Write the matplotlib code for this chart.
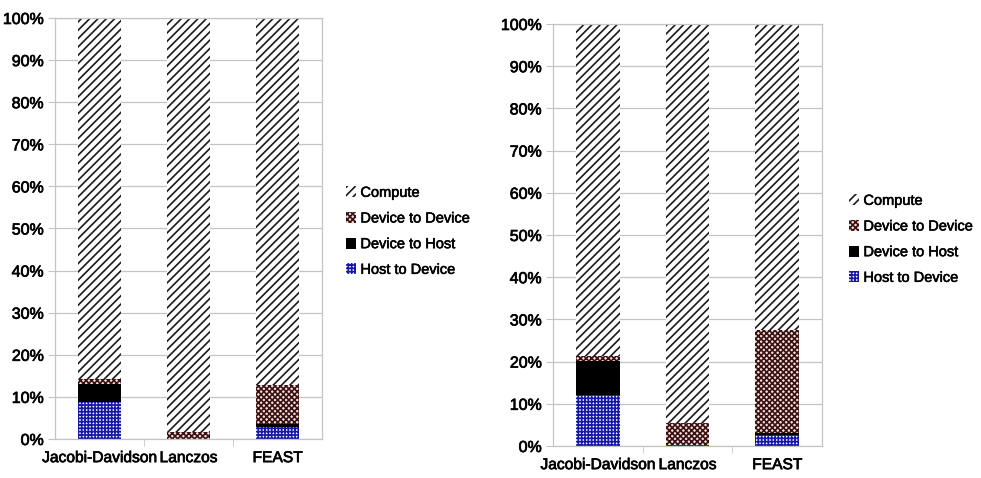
import matplotlib
matplotlib.use("Agg")
import matplotlib.pyplot as plt
import matplotlib.patheffects as pe
from matplotlib.patches import Patch
from matplotlib.ticker import FuncFormatter, MultipleLocator

methods = ["Jacobi-Davidson", "Lanczos", "FEAST"]
series = ["Compute", "Device to Device", "Device to Host", "Host to Device"]

# share of total time (%), left run
left_h2d = [8.8, 0.0, 2.9]
left_d2h = [4.3, 0.0, 0.6]
left_d2d = [1.1, 1.7, 9.3]

# share of total time (%), right run
right_h2d = [12.2, 0.3, 2.6]
right_d2h = [8.0, 0.0, 0.5]
right_d2d = [1.2, 5.1, 24.4]

plt.rcParams["font.family"] = ["Liberation Sans", "DejaVu Sans"]
plt.rcParams["hatch.linewidth"] = 1.2

styles = {
    "Compute": dict(facecolor="white", edgecolor="#1a1a1a", hatch="////"),
    "Device to Device": dict(facecolor="#efdede", edgecolor="#3a1010", hatch="xxxxxx"),
    "Device to Host": dict(facecolor="black", edgecolor="black", hatch=None),
    "Host to Device": dict(facecolor="white", edgecolor="#1818a8", hatch="+++++"),
}

GRID = "#c4c4c4"
# thicken glyphs a little without widening them
heavy = [pe.withStroke(linewidth=0.5, foreground="black")]


def draw_panel(ax, h2d, d2h, d2d):
    x = list(range(len(methods)))
    w = 0.49
    base = [0.0] * len(methods)
    for name, vals in [("Host to Device", h2d), ("Device to Host", d2h),
                       ("Device to Device", d2d)]:
        ax.bar(x, vals, w, bottom=base, linewidth=0, zorder=2, **styles[name])
        base = [b + v for b, v in zip(base, vals)]
    compute = [100 - b for b in base]
    ax.bar(x, compute, w, bottom=base, linewidth=0, zorder=2, **styles["Compute"])

    ax.set_xlim(-0.5, len(methods) - 0.5)
    ax.set_ylim(0, 100)
    ax.yaxis.set_major_locator(MultipleLocator(10))
    ax.yaxis.set_major_formatter(FuncFormatter(lambda v, _: f"{v:.0f}%"))
    ax.grid(axis="y", color=GRID, linewidth=0.9, zorder=0)
    ax.set_axisbelow(True)
    for s in ax.spines.values():
        s.set_color(GRID)
        s.set_linewidth(0.9)
    ax.set_xticks(x)
    ax.set_xticklabels(methods)
    ax.set_xticks([0.5, 1.5], minor=True)
    ax.tick_params(axis="x", which="major", length=0, labelsize=11.2, pad=8)
    ax.tick_params(axis="x", which="minor", length=5, color=GRID, direction="out")
    ax.tick_params(axis="y", length=5, color=GRID, labelsize=11.5, pad=3)
    for lbl in ax.get_xticklabels() + ax.get_yticklabels():
        lbl.set_path_effects(heavy)


def draw_legend(ax, x0, y0):
    handles = [Patch(label=n, linewidth=0, **styles[n]) for n in series]
    leg = ax.legend(handles=handles, loc="upper left", bbox_to_anchor=(x0, y0),
                    frameon=False, fontsize=10.5, handlelength=0.7, handleheight=0.8,
                    handletextpad=0.3, labelspacing=0.8, borderaxespad=0)
    for t in leg.get_texts():
        t.set_path_effects([pe.withStroke(linewidth=0.4, foreground="black")])


fig = plt.figure(figsize=(9.81, 4.78), dpi=100)
ax1 = fig.add_axes([55 / 981, 1 - 439 / 478, 267 / 981, 421 / 478])
ax2 = fig.add_axes([553 / 981, 1 - 446 / 478, 269 / 981, 422 / 478])

draw_panel(ax1, left_h2d, left_d2h, left_d2d)
draw_panel(ax2, right_h2d, right_d2h, right_d2d)

draw_legend(ax1, (340 - 55) / 267, (439 - 180) / 421)
draw_legend(ax2, (843 - 553) / 269, (446 - 188) / 422)

fig.savefig("out.png", dpi=100)
